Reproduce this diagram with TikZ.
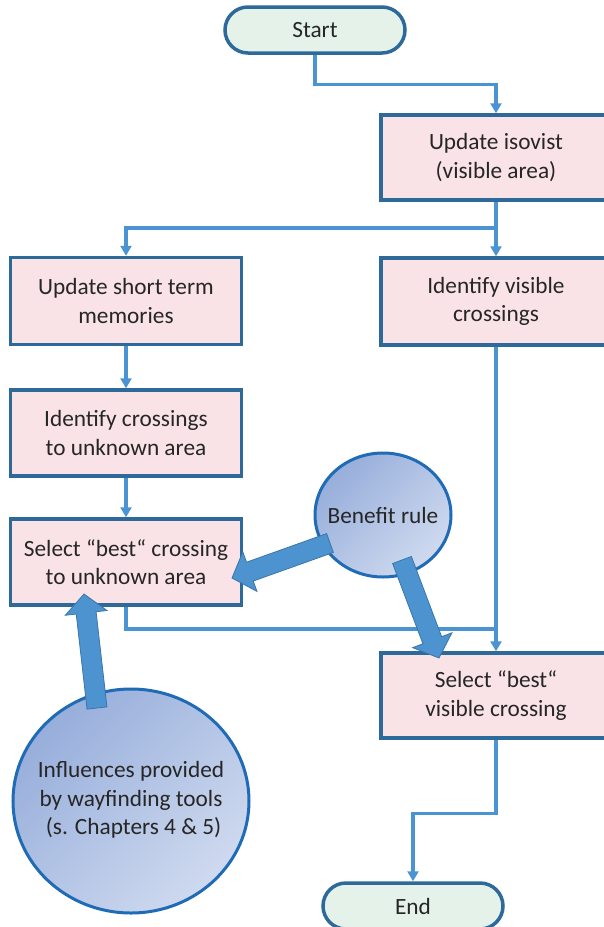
\documentclass[tikz,border=0pt]{standalone}
\usepackage{fontspec}
\setmainfont{Carlito}
\usetikzlibrary{arrows.meta,calc,shapes.geometric}
\definecolor{boxedge}{HTML}{2E6A99}
\definecolor{boxfill}{HTML}{FAE3E6}
\definecolor{termfill}{HTML}{E4F2EA}
\definecolor{connc}{HTML}{4A94D4}
\definecolor{circedge}{HTML}{1F6BB5}
\definecolor{circdark}{HTML}{97AEDB}
\definecolor{circlight}{HTML}{CFDAEF}
\definecolor{blkfill}{HTML}{4C93CF}
\definecolor{blkedge}{HTML}{3A76AB}
\definecolor{txt}{HTML}{262626}
\tikzset{
  every node/.style={font=\fontsize{23.3}{28.5}\selectfont, text=txt, align=center, inner sep=0pt},
  procbox/.style={draw=boxedge, line width=3.5pt, fill=boxfill, rectangle, minimum width=231pt, minimum height=86pt},
  termbox/.style={draw=boxedge, line width=3.5pt, fill=termfill, rectangle, rounded corners=23pt, minimum width=180pt, minimum height=46pt},
  bubble/.style={draw=circedge, line width=3pt, ellipse, bottom color=circlight, top color=circdark, shading angle=45},
  conn/.style={draw=connc, line width=3.2pt, -{Triangle[length=10pt,width=11pt]}},
  plainconn/.style={draw=connc, line width=3.2pt},
  blk/.style={fill=blkfill, draw=blkedge, line width=0.8pt, line join=miter},
}
\newcommand\blkarrow[2]{%
  \path ($(#2)!19pt!(#1)$) coordinate (bh);
  \draw[blk] ($(#1)!10pt!90:(#2)$) -- ($(bh)!10pt!90:(#2)$) -- ($(bh)!21pt!90:(#2)$) -- (#2)
     -- ($(bh)!21pt!-90:(#2)$) -- ($(bh)!10pt!-90:(#2)$) -- ($(#1)!10pt!-90:(#2)$) -- cycle;}
\begin{document}
\begin{tikzpicture}[x=1pt,y=-1pt]
\useasboundingbox (0,0) rectangle (604,927);
% nodes
\node[termbox] (start) at (315,30) {Start};
\node[procbox, minimum width=230pt, minimum height=85pt] (iso) at (496,157.5) {Update isovist\\(visible area)};
\node[procbox, minimum height=87pt] (stm) at (126,301) {Update short term\\memories};
\node[procbox, minimum width=230pt, minimum height=87pt] (ivc) at (496,301.5) {Identify visible\\crossings};
\node[procbox, minimum height=86pt] (idu) at (126,433) {Identify crossings\\to unknown area};
\node[procbox, minimum height=86pt] (sel) at (126,562) {Select “best“ crossing\\to unknown area};
\node[procbox, minimum width=230pt, minimum height=85pt] (sbv) at (496,695.5) {Select “best“\\visible crossing};
\node[termbox] (end) at (413,906) {End};
\node[bubble, minimum width=136pt, minimum height=124pt] (ben) at (383,515) {};
\node (bentext) at (ben.center) {Benefit rule};
\node[bubble, minimum width=236pt, minimum height=224pt] (inf) at (131,801) {};
\node (inftext) at ([yshift=1pt]inf.center) {Influences provided\\by wayfinding tools\\\ (s. Chapters 4 \& 5)};
% connectors
\coordinate (br) at (496,228);
\coordinate (jn) at (496,629);
\draw[conn] (start.south) -- ++(0,30) -| (iso.north);
\draw[conn] (iso.south) -- (ivc.north);
\draw[conn] (br) -| (stm.north);
\draw[conn] (stm.south) -- (idu.north);
\draw[conn] (idu.south) -- (sel.north);
\draw[conn] (ivc.south) -- (sbv.north);
\draw[plainconn] (sel.south) |- (jn);
\draw[conn] (sbv.south) -- ++(0,74) -| (end.north);
% block arrows
\coordinate (a1s) at (330,543); \coordinate (a1t) at (232,578);
\coordinate (a2s) at (402,560); \coordinate (a2t) at (439,658);
\coordinate (a3s) at (97,708);  \coordinate (a3t) at (84,594);
\blkarrow{a1s}{a1t}
\blkarrow{a2s}{a2t}
\blkarrow{a3s}{a3t}
\end{tikzpicture}
\end{document}
